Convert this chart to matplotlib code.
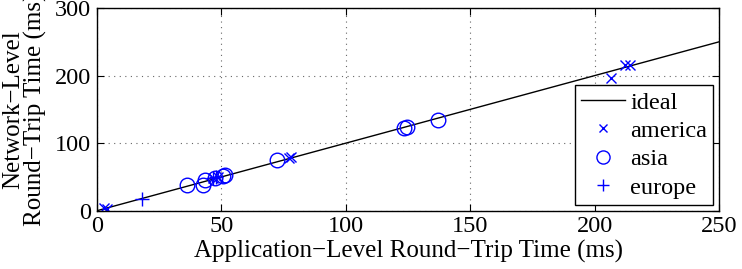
import numpy as np
import matplotlib.pyplot as plt

plt.rcParams['font.family'] = ['Liberation Serif', 'DejaVu Serif']

# data (application rtt, network rtt)
america_x = [2.7, 4.0, 46.5, 48.5, 77.0, 78.0, 206.5, 212.0, 214.0]
america_y = [3.5, 3.0, 48.0, 50.0, 78.0, 79.0, 197.0, 215.0, 215.0]
asia_x = [36.3, 42.6, 43.3, 47.5, 50.5, 51.3, 72.3, 123.5, 124.5, 137.0]
asia_y = [38.0, 38.0, 45.5, 49.0, 51.5, 53.0, 74.5, 123.0, 124.5, 134.5]
europe_x = [18.0, 46.5, 48.0]
europe_y = [17.0, 48.5, 50.5]
ideal_x = [0, 250]
ideal_y = [0, 250]

fs_tick = 17.5
fs_label = 18

fig = plt.figure(figsize=(7.42, 2.69), dpi=100)
ax = fig.add_axes([0.1307, 0.2167, 0.8386, 0.7536])

ax.plot(ideal_x, ideal_y, color='black', lw=1.0, label='ideal')
ax.plot(america_x, america_y, 'x', color='blue', ms=7, mew=1.0, ls='none', label='america')
ax.plot(asia_x, asia_y, 'o', mfc='none', mec='blue', ms=10.5, mew=1.0, ls='none', label='asia')
ax.plot(europe_x, europe_y, '+', color='blue', ms=10, mew=1.0, ls='none', label='europe')

ax.set_xlim(0, 250)
ax.set_ylim(0, 300)
ax.set_xticks([0, 50, 100, 150, 200, 250])
ax.set_yticks([0, 100, 200, 300])
ax.grid(True, ls=(0, (1, 4)), color='#666666', lw=0.8)
ax.tick_params(direction='in', top=True, right=True, labelsize=fs_tick, length=5, pad=4)
for s in ax.spines.values():
    s.set_linewidth(1.0)

ax.set_xlabel('Application\u2212Level Round\u2212Trip Time (ms)', fontsize=fs_label, labelpad=2)
ax.set_ylabel('Network\u2212Level\nRound\u2212Trip Time (ms)', fontsize=fs_label, labelpad=6, linespacing=1.0)

leg = ax.legend(loc='lower right', fontsize=fs_tick, frameon=True, fancybox=False,
                edgecolor='black', framealpha=1, borderpad=0.25, labelspacing=0.26,
                handlelength=1.8, handletextpad=0.2, borderaxespad=0.25,
                markerscale=0.9)
leg.get_frame().set_linewidth(1.0)

fig.savefig('out.png', dpi=100)
